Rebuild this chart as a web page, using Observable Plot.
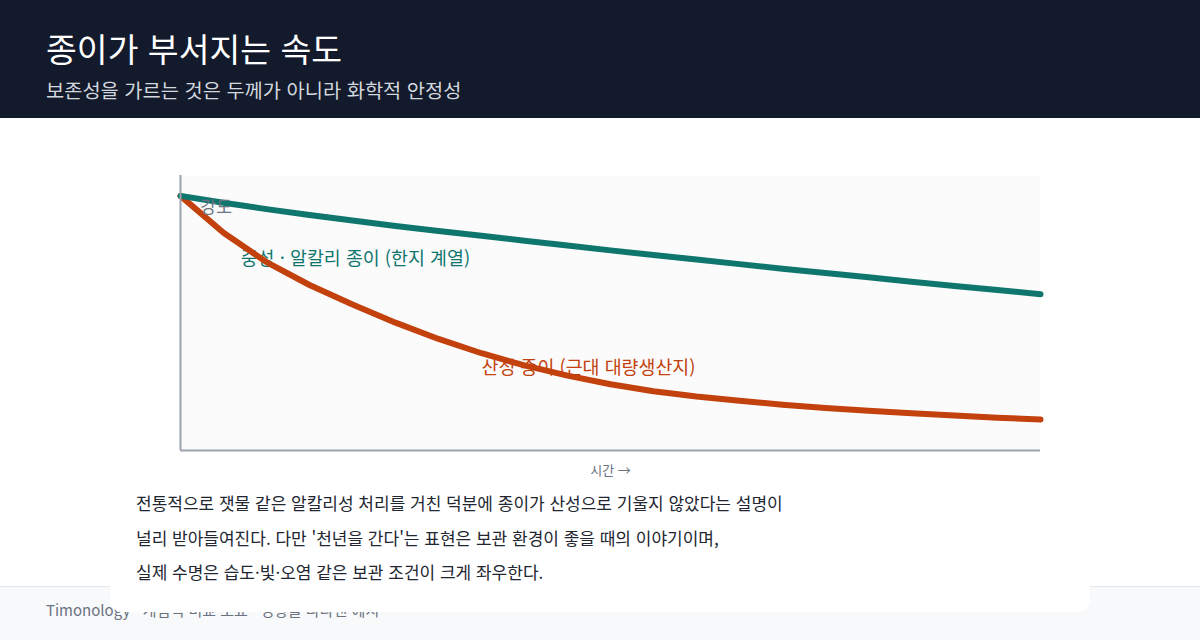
<!DOCTYPE html>
<html lang="ko">
<head>
<meta charset="utf-8">
<script src="https://cdn.jsdelivr.net/npm/d3@7"></script>
<script src="https://cdn.jsdelivr.net/npm/@observablehq/plot@0.6"></script>
<style>
  html, body { margin: 0; padding: 0; }
  body { width: 1200px; height: 640px; overflow: hidden; position: relative; background: #ffffff;
         font-family: "Noto Sans CJK KR", "Noto Sans", sans-serif; }
  #header { position: absolute; left: 0; top: 0; width: 1200px; height: 118px; background: #121a2b; }
  #title { position: absolute; left: 46px; top: 30px; margin: 0; font-size: 33.5px; line-height: 36px; font-weight: 400; color: #ffffff; }
  #subtitle { position: absolute; left: 46px; top: 78px; margin: 0; font-size: 19.8px; line-height: 24px; font-weight: 400; color: #d3d7de; }
  #footer { position: absolute; left: 0; top: 586px; width: 1200px; height: 54px; background: #f8f9fb; border-top: 1px solid #e5e7eb; z-index: 1; }
  #footnote { position: absolute; left: 46px; top: 13px; font-size: 15px; line-height: 20px; color: #6b7280; white-space: nowrap; }
  #card { position: absolute; left: 110px; top: 118px; width: 980px; height: 494px; background: #ffffff; border-radius: 0 0 12px 12px; z-index: 2; }
  #chart { position: absolute; left: 0; top: 140px; z-index: 3; }
  #chart svg { overflow: hidden; }
  #note { position: absolute; left: 136px; top: 486px; z-index: 3; font-size: 17px; line-height: 34.5px; color: #222631; white-space: nowrap; }
</style>
</head>
<body>
<div id="header">
  <h1 id="title">종이가 부서지는 속도</h1>
  <p id="subtitle">보존성을 가르는 것은 두께가 아니라 화학적 안정성</p>
</div>
<div id="footer"><div id="footnote">Timonology · 개념적 비교 도표 · 경향을 나타낸 예시</div></div>
<div id="card"></div>
<div id="chart"></div>
<div id="note">전통적으로 잿물 같은 알칼리성 처리를 거친 덕분에 종이가 산성으로 기울지 않았다는 설명이<br>널리 받아들여진다. 다만 '천년을 간다'는 표현은 보관 환경이 좋을 때의 이야기이며,<br>실제 수명은 습도·빛·오염 같은 보관 조건이 크게 좌우한다.</div>
<script>
// Time steps (relative, arbitrary units)
const time = [0, 5, 10, 15, 20, 25, 30, 35, 40, 45, 50, 55, 60, 65, 70, 75, 80, 85, 90, 95, 100];
// Relative strength, neutral/alkaline paper (hanji type)
const neutralStrength = [100, 97.3, 94.8, 92.5, 90.3, 88.2, 86.2, 84.3, 82.4, 80.5, 78.6, 76.8, 75.0, 73.2, 71.4, 69.7, 68.0, 66.3, 64.6, 63.0, 61.4];
// Relative strength, acidic paper (modern mass-produced)
const acidStrength = [100, 85.5, 74.0, 65.0, 57.3, 50.2, 43.8, 38.2, 33.4, 29.4, 26.0, 23.3, 21.2, 19.5, 18.0, 16.7, 15.6, 14.6, 13.7, 12.9, 12.2];

const seriesNames = ["중성 · 알칼리 종이 (한지 계열)", "산성 종이 (근대 대량생산지)"];
const seriesColors = ["#0f766e", "#c2410c"];
// Label anchor points in data space (time, strength)
const labelTime = [7, 35];
const labelStrength = [75.2, 32.3];

const yLabel = "강도";
const xLabel = "시간 →";

const neutralData = time.map((t, i) => ({t, v: neutralStrength[i]}));
const acidData = time.map((t, i) => ({t, v: acidStrength[i]}));
const labels = seriesNames.map((name, i) => ({name, t: labelTime[i], v: labelStrength[i], color: seriesColors[i]}));

const chart = Plot.plot({
  width: 1200,
  height: 338,
  marginLeft: 180,
  marginRight: 160,
  marginTop: 35,
  marginBottom: 28,
  style: {background: "transparent", fontFamily: "'Noto Sans CJK KR', 'Noto Sans', sans-serif"},
  x: {domain: [0, 100], axis: null},
  y: {domain: [0, 108], axis: null},
  marks: [
    Plot.frame({fill: "#fbfbfb", stroke: null}),
    Plot.text(labels, {x: "t", y: "v", text: "name", fill: "color", textAnchor: "start", fontSize: 18.4}),
    Plot.line(acidData, {x: "t", y: "v", stroke: seriesColors[1], strokeWidth: 6, strokeLinejoin: "round"}),
    Plot.line(neutralData, {x: "t", y: "v", stroke: seriesColors[0], strokeWidth: 6, strokeLinejoin: "round"}),
    Plot.ruleX([0], {stroke: "#9ca3af", strokeWidth: 2}),
    Plot.ruleY([0], {stroke: "#9ca3af", strokeWidth: 2}),
    Plot.text([yLabel], {frameAnchor: "top-left", dx: 20, dy: 25, fill: "#6b7280", fontSize: 17, textAnchor: "start"}),
    Plot.text([xLabel], {frameAnchor: "bottom", dy: 24, fill: "#6b7280", fontSize: 13})
  ]
});
document.getElementById("chart").appendChild(chart);
</script>
</body>
</html>
